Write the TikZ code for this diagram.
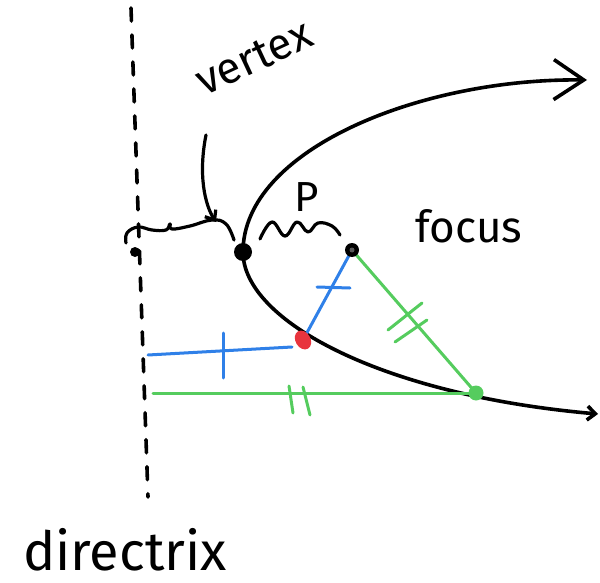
\documentclass[tikz,border=0pt]{standalone}
\usepackage{fontspec}
\setmainfont{Fira Sans}
\usetikzlibrary{arrows.meta}
\definecolor{penblue}{HTML}{2F80E8}
\definecolor{pengreen}{HTML}{55CC5E}
\definecolor{penred}{HTML}{E8343E}
\begin{document}
\begin{tikzpicture}[x=1pt,y=-1pt, line cap=round, line join=round,
  ink/.style={line width=3.6pt, black},
  thinink/.style={line width=3.2pt, black},
  blueink/.style={line width=3pt, penblue},
  greenink/.style={line width=3pt, pengreen},
  hand/.style={font=\fontsize{44}{48}\selectfont, inner sep=0pt}]
\useasboundingbox (0,0) rectangle (600,583);

% key points
\coordinate (dtop) at (131,8);
\coordinate (dbot) at (148,497);
\coordinate (V) at (243,252);
\coordinate (F) at (352,250);
\coordinate (D) at (135,252);
\coordinate (R) at (303,340);
\coordinate (G) at (476,393);
\coordinate (up) at (587,80);
\coordinate (lo) at (598,414);
\coordinate (bl) at (148,355);
\coordinate (br) at (292,347);
\coordinate (gl) at (153,393);

% directrix
\draw[ink, dash pattern=on 13pt off 14pt] (dtop) -- (dbot);

% parabola
\draw[ink, -{Straight Barb[length=30pt,width=40pt,line width=3.6pt]}] (V) .. controls (243,150) and (420,78) .. (up);
\draw[ink, -{Straight Barb[length=8pt,width=14pt,line width=3.6pt]}] (V) .. controls (243,320) and (380,395) .. (lo);

% blue segments
\draw[blueink] (R) -- (F);
\draw[blueink] (317,287) -- (350,288);
\draw[blueink] (bl) -- (br);
\draw[blueink] (223,333) -- (223,378);

% green segments
\draw[greenink] (F) -- (G);
\draw[greenink] (gl) -- (G);
\draw[greenink] (289,386) -- (293,413);
\draw[greenink] (303,387) -- (310,415);
\draw[greenink] (388,330) -- (422,303);
\draw[greenink] (395,342) -- (427,320);

% squiggles
\draw[thinink] plot[smooth, tension=0.7] coordinates {(126,243) (127,233) (138,227) (152,230) (166,230) (170,224) (172,229) (190,226) (212,220) (226,224) (234,240)};
\draw[thinink] plot[smooth, tension=0.7] coordinates {(260,239) (272,222) (285,236) (297,222) (308,232) (318,223) (332,226) (340,235)};
\draw[thinink, -{Straight Barb[length=8pt,width=13pt,line width=3.2pt]}] (206,135) .. controls (198,175) and (205,205) .. (216,222);

% dots
\fill (D) circle (5);
\fill (V) circle (9);
\fill (F) circle (7);
\fill[black!65] (F) circle (2.5);
\fill[penred, rotate around={30:(R)}] (R) ellipse (7.5 and 10);
\fill[pengreen] (G) circle (7.5);

% labels
\node[hand, rotate=25] (vtx) at (254,58) {vertex};
\node[hand, font=\fontsize{42}{46}\selectfont] (p) at (307,197) {P};
\node[hand] (foc) at (469,226) {focus};
\node[hand, font=\fontsize{54}{58}\selectfont, anchor=base] (dir) at (125,570) {directrix};
\end{tikzpicture}
\end{document}
